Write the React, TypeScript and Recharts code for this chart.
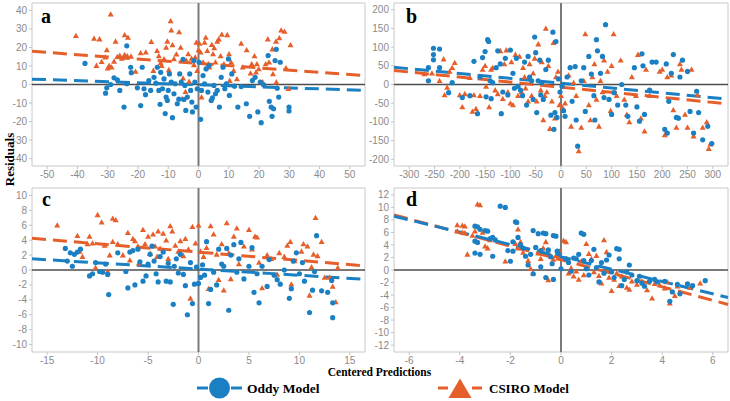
import { ScatterChart, Scatter, XAxis, YAxis, ReferenceLine, ReferenceArea } from "recharts";

type Pt = [number, number];

const BLUE = "#1b80c3";
const ORANGE = "#e65f2b";

// panel a
const oddyA: Pt[] = [
  [-37.5, 11.4], [-30.7, -4.7], [-30.3, -1.8], [-29, 0], [-27.9, 3.6], [-26.8, 2.5], [-26, -3.2], [-24.6, -12.2],
  [-23.7, 20.9], [-23.7, 0.4], [-22.4, 9.3], [-22.2, 6.4], [-20.2, -1.8], [-19.1, -11.4], [-18.6, 9.3], [-18, -2.3],
  [-17.5, -5.5], [-16.4, 2.1], [-15.8, -3.2], [-14.7, 3.9], [-14.1, 0.7], [-13.6, 9.3], [-13.1, -3.2], [-12.7, -10.7],
  [-12.5, 6.6], [-11.9, -2.3], [-11.4, 3], [-11, -15.7], [-10.7, -6.8], [-10.3, -8.6], [-10, -3.2], [-9.6, 5.7],
  [-9, 1.3], [-8.6, -17.9], [-8.1, -5], [-7.7, 0.4], [-7, -10.4], [-6.5, -7.9], [-6.2, 5.7], [-5.7, 1.3],
  [-5.1, 13.6], [-4.8, -8.1], [-4.5, -0.5], [-4.2, -14], [-3.7, -6.8], [-2.9, 5.7], [-2.6, -3.2], [-2.2, -9.5],
  [-2, -14.8], [-1.5, 12.9], [-1.2, 1.3], [-0.8, -12.2], [-0.4, -2.3], [0.2, 12], [0.7, -18.8], [1, -3.2],
  [1.5, 4.8], [2, 0.4], [2.5, 8.4], [3.1, -4.1], [3.5, 10.2], [4.2, -8.6], [4.6, -7.2], [5.1, -0.5],
  [5.6, -5], [6.2, -3.2], [6.9, -12.2], [7.5, 3.9], [8.1, 9.3], [8.7, -2.3], [9.2, 0.4], [9.9, 13.8],
  [10.2, -5.9], [11, 5.7], [11.9, -0.9], [13, -12.2], [14.1, -1.1], [15.8, -10.4], [16.9, -17.2], [17.8, 2.1],
  [18.7, 3.9], [19.6, -14.8], [20.4, 1.3], [20.7, -20.6], [21.5, -0.2], [23, 15.6], [23.4, -9.1], [24, -12.2],
  [24.3, -17.2], [24.8, -13.1], [25.3, 12.9], [25.7, 19], [26, -2], [26.5, -6.8], [27, 12], [29.9, -12.2], [29.9, -14.3],
];
const csiroA: Pt[] = [
  [-40.5, 26.3], [-34.5, 24.9], [-32.7, 24.5], [-29, 37.9], [-24.4, 26.7], [-23.3, 25.4], [-27.4, 23.3], [-33.7, 10.2],
  [-32, 12.3], [-30.8, 14.7], [-30.3, 18.6], [-29.5, 10.2], [-28.7, 9.3], [-30, 8.8], [-27.9, 12.5], [-26.8, 15],
  [-26, 15.6], [-25.3, 14.1], [-24.4, 16.1], [-23.5, 15.4], [-22.3, 15.2], [-20.8, 7], [-19.1, 17], [-17.4, 17.4],
  [-15.6, 23.1], [-14.9, 7.5], [-13.7, 18.2], [-13.1, 15.4], [-12.5, 11.8], [-12.2, 10.2], [-11.4, 13.8], [-10.7, 20],
  [-10.3, 23.3], [-9.8, 7.9], [-9.2, 34.3], [-9, 29.3], [-8.6, 21.3], [-8.1, 13.8], [-7.3, 16.3], [-6.4, 28.4],
  [-5.9, 20], [-5.5, 12.9], [-5.4, -7.7], [-5.1, 3.4], [-4.3, -3.9], [-4, 12.9], [-3.4, 16.5], [-3.1, 1.6],
  [-2.3, 14.1], [-1.5, 10.6], [-1.1, 14.7], [-0.7, 22.7], [-0.4, 7.5], [0, 18.6], [0.3, 22.2], [0.7, 17.4],
  [1, -6.8], [1.5, 12], [2, 22.7], [2.4, 25.4], [2.9, 18.2], [3.3, 11.1], [3.6, 9.3], [4.4, 21.5],
  [4.8, 16.5], [5.2, 19.7], [5.6, 12], [6.2, 23.3], [6.7, 24.5], [7.3, 15.4], [7.7, 27], [8.4, 11.1],
  [9.5, 26.8], [10.1, 16.5], [10.8, 12], [11.6, 7.5], [12.7, 3], [14.1, 22.2], [14.6, 9.3], [15.9, 18.6],
  [17.2, 6.1], [17.6, 11.1], [18.5, 15.4], [19, 6.6], [19.3, 11.1], [19.9, 8.4], [21.2, 1.3], [22.9, 24.5],
  [23.3, 12], [24.4, 19.1], [25.6, 23.3], [26.7, 25.1], [27.3, 29.3], [28.4, 28.6], [28.9, 8.9], [29.7, -2.3],
  [30.4, 21.3], [25.7, 1.3], [24.6, 5.7], [22.2, 11.1], [10.3, 2.1],
];

// panel b
const oddyB: Pt[] = [
  [-262, 45], [-262, 10], [-252, 97], [-252, 80], [-252, 66], [-240, 95], [-240, 45], [-222, -22], [-215, 5],
  [-195, -35], [-180, -30], [-172, 62], [-165, -78], [-160, 20], [-155, 72], [-150, 88], [-148, -33], [-145, 120],
  [-143, 115], [-140, 10], [-138, -38], [-135, 5], [-128, 45], [-125, 90], [-120, 55], [-118, -78], [-115, -20],
  [-110, 70], [-105, -28], [-100, 92], [-95, 30], [-92, -10], [-88, 70], [-85, -5], [-80, -15], [-76, -30],
  [-72, 60], [-68, -55], [-65, 75], [-62, 20], [-58, 10], [-55, -40], [-52, 127], [-50, 85], [-48, -75],
  [-45, 10], [-42, 65], [-40, -28], [-38, 5], [-35, -40], [-30, 40], [-25, 65], [-20, -82], [-16, 140],
  [-14, -120], [-12, -75], [-10, 115], [-8, -88], [-5, 15], [-2, -20], [2, -5], [5, -70], [8, -85],
  [12, 20], [18, 45], [22, -45], [28, 48], [30, -95], [33, -165], [40, 10], [45, 45], [48, -72],
  [55, 75], [60, 28], [65, -30], [67, -95], [70, 120], [72, 90], [78, 30], [82, 75], [85, -35],
  [88, 160], [95, -40], [100, -80], [105, -22], [112, -55], [120, 0], [128, -55], [132, -85], [145, 45],
  [150, -60], [155, -98], [160, 82], [162, 50], [165, -80], [175, -15], [180, 60], [188, 60], [205, -120],
  [208, 55], [210, -130], [213, -45], [218, 30], [222, 80], [228, -88], [232, -90], [235, 20], [240, 65],
  [250, 35], [255, -72], [262, -130], [268, -18], [272, -75], [280, -148], [290, -112], [298, -158],
];
const csiroB: Pt[] = [
  [-270, 28], [-255, 30], [-240, 10], [-232, 68], [-230, -28], [-225, -8], [-220, 35], [-215, 45], [-210, 58],
  [-200, -28], [-195, -60], [-190, -25], [-180, 18], [-175, -72], [-172, -28], [-168, -65], [-160, -30], [-155, 40],
  [-150, 50], [-148, -5], [-142, -60], [-138, 40], [-135, 45], [-130, -15], [-125, -25], [-120, 90], [-115, -38],
  [-112, 55], [-108, 92], [-105, -20], [-100, -50], [-98, 60], [-95, -55], [-90, 80], [-85, -30], [-82, 75],
  [-78, -20], [-75, 45], [-72, 20], [-70, -10], [-65, -45], [-62, 55], [-58, -30], [-55, 30], [-52, 70],
  [-48, -45], [-45, 108], [-40, -15], [-38, 60], [-35, -95], [-32, -30], [-30, 150], [-28, -20], [-25, 50],
  [-22, -118], [-18, -45], [-15, 112], [-12, -90], [-10, 20], [-6, 35], [-3, -55], [0, -30], [3, -62],
  [8, -50], [15, 25], [20, -112], [25, 5], [30, -30], [35, -178], [40, -115], [45, 10], [48, 135],
  [55, -55], [58, -95], [62, 20], [66, 55], [70, -40], [75, -112], [78, 10], [82, -20], [85, 65],
  [92, 35], [98, -70], [100, 50], [104, 135], [110, -30], [118, 65], [125, -40], [130, -80], [135, -100],
  [140, 20], [148, -30], [152, 80], [158, -90], [165, -125], [168, 40], [175, -30], [195, 35], [200, 40],
  [205, -135], [210, 20], [218, 25], [222, -68], [228, -115], [235, 55], [238, 40], [245, -80], [250, -115],
  [258, 40], [262, -138], [270, -28], [280, -115], [288, -100], [292, -172], [295, -160],
];

// panel c
const oddyC: Pt[] = [
  [-13.2, 2.9], [-13, 1.2], [-12.7, 2.3], [-12.5, 0.5], [-12.3, 2.1], [-12, 2.4], [-11.7, 2.8], [-10.8, -0.8],
  [-10.5, -0.5], [-10.2, 1], [-9.8, -0.2], [-9.5, -0.3], [-9.2, 0.8], [-9, -0.6], [-8.9, -3.3], [-8, 2.3],
  [-7.2, -0.2], [-7, -2.4], [-6.8, 2.4], [-6.5, 2.6], [-6.3, -2], [-6, 2.8], [-5.8, 1.1], [-5.5, -1.5],
  [-5.2, -0.8], [-5, 0.8], [-4.8, 2.1], [-4.6, 3.2], [-4.4, 1.2], [-4.2, -0.5], [-4, -1.6], [-3.8, 1.8],
  [-3.5, 2.4], [-3.2, -1.5], [-3, 0.9], [-2.8, -1.6], [-2.5, -4.6], [-2.4, 0.5], [-2.2, 1.5], [-2, -0.4],
  [-1.8, 2.1], [-1.5, -0.6], [-1.3, -2.1], [-1.1, -6], [-0.8, 1], [-0.6, -4.5], [-0.4, -1.9], [-0.2, 0.4],
  [0, -1.8], [0.2, -1], [0.4, 0.7], [0.6, -0.7], [0.8, 3.8], [1, -4.5], [1.2, -2.6], [1.5, -0.3],
  [1.8, -2], [2, 2.8], [2.3, 0.8], [2.5, 0.5], [2.8, 2.9], [3, -5.4], [3.2, 2], [3.5, 3.4],
  [3.8, -0.3], [4, 1.5], [4.2, 3.7], [4.5, -1.2], [5, 0.5], [5.3, 3], [5.5, -3], [5.8, -0.5],
  [6, -4.4], [6.3, 0.5], [6.8, -2.2], [7, 1.4], [7.5, -0.7], [7.8, -1.3], [8.1, -1.9], [8.5, 0],
  [9, -3.8], [9.2, -2.5], [9.4, 1.2], [9.7, 2.3], [10, -0.5], [10.3, 1], [10.5, -1.5], [11, -5.7],
  [11.3, -2.7], [11.5, -0.2], [11.7, 4.6], [12.2, -2.8], [12.8, -3], [13.2, -1.4], [13.3, -4.4], [13.3, -6.4],
];
const csiroC: Pt[] = [
  [-14, 6], [-12, 4.6], [-11.8, 2.5], [-11.5, 1.8], [-11, 3.5], [-10.8, 4.5], [-10.5, 3.6], [-10.2, 0.3],
  [-10, 7.4], [-9.6, 6.4], [-9.3, 3.3], [-9, -0.2], [-8.8, 2], [-8.5, 6.9], [-8.2, 6.7], [-8.5, 3.8],
  [-8, 3.5], [-7.5, 2], [-7, 5], [-6.8, 1.3], [-6.5, 4.2], [-6.3, 3.9], [-6, 3.2], [-5.9, 0.9],
  [-5.5, 5.4], [-5.3, 3.5], [-5, 4.5], [-4.8, 2.2], [-4.5, 4.8], [-4.3, 3.2], [-4.1, 1.8], [-4, 5.2],
  [-3.8, 2.9], [-3.5, 4.9], [-3.2, 4], [-3, 1.5], [-2.8, 5.9], [-2.6, 5.2], [-2.3, 3.3], [-2, 2.5],
  [-1.8, 3.9], [-1.5, 1.9], [-1.3, 4.2], [-1, 2.8], [-0.8, -3.8], [-0.6, 5.8], [-0.3, 3.6], [0, 6],
  [0.2, 2.5], [0.5, 1.8], [0.8, 3], [1, -2.5], [1.2, 5.9], [1.5, 4.8], [1.8, 2.1], [2, -1.3],
  [2.3, 3.5], [2.5, -2.7], [2.8, 6.3], [3, 2.3], [3.2, -1.2], [3.5, 4.5], [3.8, 5.6], [4, 0.8],
  [4.5, 3.2], [5, 5.4], [5.3, 2.8], [5.6, 4.5], [5.8, 4.4], [6, 1], [6.3, -2.4], [6.8, 2],
  [7.2, 1.5], [7.8, -0.6], [8, 2.3], [8.5, 1.8], [8.8, 3.3], [9.1, 3.8], [9.2, -1.9], [9.5, 1.2],
  [10.2, 2.5], [10.4, 3.5], [10.8, 3.2], [11, -3.4], [11.2, 0.4], [11.4, 2.1], [11.6, 7], [11.8, 1.9],
  [12.2, 3.8], [12.5, -1], [13, -1], [13.3, -2.2], [13.6, -4.3], [13.8, 0.3],
];

// panel d
const oddyD: Pt[] = [
  [-3.4, 7], [-3.3, 6.9], [-3.2, 6.5], [-3, 6.3], [-2.9, 6.2], [-2.8, 5], [-2.7, 5.2], [-2.6, 4.8],
  [-3.4, 4.6], [-3.3, 4.4], [-3.4, 2.7], [-3.2, 2.5], [-2.7, 2.2], [-2.4, 10.2], [-2.2, 10], [-2, 1.4],
  [-1.8, 7.7], [-1.75, 7.6], [-1.7, 5.2], [-1.6, 4], [-1.9, 4.5], [-2.1, 3.1], [-1.9, 3], [-1.5, 3.5],
  [-1.4, 2.2], [-1.3, 0.8], [-1.2, 2.5], [-1.1, 6.3], [-1, 3.6], [-0.9, 5.8], [-0.8, 3.1], [-0.7, 5.9],
  [-0.6, 5.8], [-0.5, 3.2], [-0.4, 2.1], [-0.35, 1], [-0.3, 5.5], [-0.2, 5.4], [-0.15, 3], [-0.1, 2.6],
  [0, 0.2], [-0.6, -1.2], [-0.8, 0.5], [-1.1, -0.6], [-0.3, -1.5], [0.2, 1.8], [0.3, 1.2], [0.4, -0.2],
  [0.5, 1.9], [0.6, 1.8], [0.7, 2.5], [0.8, 5.9], [0.9, 5.7], [0.9, 1.5], [1, 0.2], [1.1, -0.8],
  [1.2, 1.5], [1.3, 3.3], [1.4, 0.4], [1.5, -1.9], [1.6, 1.2], [1.7, -0.5], [1.8, 1.6], [1.9, 2.4],
  [2, -0.3], [2.1, -1.2], [2.2, 3.4], [2.3, 3.3], [2.3, 1.8], [2.4, -2.5], [2.5, -1.5], [2.6, -0.3],
  [2.7, 0.8], [2.8, -0.8], [3, -1.7], [3.1, -1], [3.2, -2.1], [3.3, -2.6], [3.5, -1.8], [3.7, -1.5],
  [3.8, -1.9], [4.1, -1.8], [4.3, -5], [4.4, -3.5], [4.6, -2.3], [4.7, -3.8], [5, -2.2], [5.2, -2.5], [5.7, -1.7],
];
const csiroD: Pt[] = [
  [-4.1, 7.2], [-3.9, 7.1], [-3.8, 7], [-4.1, 6.2], [-3.9, 6], [-3.8, 5.9], [-3.7, 2.5], [-3.5, 5.5],
  [-3.4, 6.2], [-3.3, 10.5], [-3.2, 10.4], [-3.1, 6], [-3, 3.8], [-2.9, 3.5], [-2.8, 4.8], [-2.2, 1.4],
  [-1.8, 4.2], [-1.7, 6.5], [-1.7, 3.5], [-1.6, 4.5], [-1.5, 2.8], [-1.3, 1.5], [-1.2, 0.2], [-1.1, -0.5],
  [-0.9, 2.7], [-0.8, 1.8], [-0.7, 3.5], [-0.6, 4.5], [-0.5, -1.6], [-0.4, 2.2], [-0.3, 1.7], [-0.2, 2.3],
  [-0.1, 1.9], [-0.05, 3], [0.1, 4.7], [0.2, 4.5], [0.3, -0.5], [0.4, 0.3], [0.5, -1], [0.6, -0.2],
  [0.7, -1.5], [0.8, 1.4], [0.9, -0.8], [1, 4.2], [1.1, 2.6], [1.2, 1.8], [1.3, -0.3], [1.4, 2.3],
  [1.5, -0.9], [1.6, -2.1], [1.7, 4.8], [1.8, 2.9], [1.9, -1.2], [2, -3.3], [2.1, -1.5], [2.2, -0.5],
  [2.3, -2.5], [2.4, -1], [2.6, -2.8], [2.7, -3.1], [2.8, -1.8], [3, -2.3], [3.2, -1.8], [3.4, -3.2],
  [3.6, -4.5], [3.7, -2.2], [3.9, -2.4], [4.1, -2.9], [4.2, -1.9], [4.3, -5.3], [4.5, -4.1], [4.6, -2.6],
  [5.1, -2.8], [5.5, -2.1],
];

// fitted lines (end points)
const fitOddyA: Pt[] = [[-55, 2.9], [55, -3.2]];
const fitCsiroA: Pt[] = [[-55, 17.9], [55, 4.8]];
const fitOddyB: Pt[] = [[-330, 46], [330, -39]];
const fitCsiroB: Pt[] = [[-330, 37.5], [330, -52]];
const fitOddyC: Pt[] = [[-16.5, 1.5], [16.5, -1.25]];
const fitCsiroC: Pt[] = [[-16.5, 4.25], [16.5, 0.55]];
const fitOddyD: Pt[] = [[-6.6, 8.6], [6.6, -4.4]];
const fitCsiroD: Pt[] = [[-6.6, 8.8], [6.6, -5.5]];

const xTicksA = [-50, -40, -30, -20, -10, 0, 10, 20, 30, 40, 50];
const yTicksA = [-40, -30, -20, -10, 0, 10, 20, 30, 40];
const xTicksB = [-300, -250, -200, -150, -100, -50, 0, 50, 100, 150, 200, 250, 300];
const yTicksB = [-200, -150, -100, -50, 0, 50, 100, 150, 200];
const xTicksC = [-15, -10, -5, 0, 5, 10, 15];
const yTicksC = [-10, -8, -6, -4, -2, 0, 2, 4, 6, 8, 10];
const xTicksD = [-6, -4, -2, 0, 2, 4, 6];
const yTicksD = [-12, -10, -8, -6, -4, -2, 0, 2, 4, 6, 8, 10, 12];

const toObj = (pts: Pt[]) => pts.map(([x, y]) => ({ x, y }));

const Dot = (p: any) => <circle cx={p.cx} cy={p.cy} r={2.6} fill={BLUE} />;
const Tri = (p: any) => (
  <polygon
    points={`${p.cx},${p.cy - 3} ${p.cx - 3},${p.cy + 2.3} ${p.cx + 3},${p.cy + 2.3}`}
    fill={ORANGE}
  />
);

const tickStyle = { fontSize: 10, fill: "#8a8a8a", fontFamily: "Liberation Sans, Arial, sans-serif" };

interface PanelProps {
  left: number;
  top: number;
  width: number;
  height: number;
  mTop: number;
  mRight: number;
  xDom: [number, number];
  yDom: [number, number];
  xTicks: number[];
  yTicks: number[];
  oddy: Pt[];
  csiro: Pt[];
  fitOddy: Pt[];
  fitCsiro: Pt[];
}

function Panel(p: PanelProps) {
  const seg = (f: Pt[]) => f.map(([x, y]) => ({ x, y }));
  return (
    <div style={{ position: "absolute", left: p.left, top: p.top }}>
      <ScatterChart
        width={p.width}
        height={p.height}
        margin={{ top: p.mTop, right: p.mRight, bottom: 0, left: 0 }}
      >
        <XAxis
          type="number"
          dataKey="x"
          domain={p.xDom}
          ticks={p.xTicks}
          interval={0}
          allowDataOverflow
          height={19}
          tick={tickStyle}
          tickSize={3}
          tickMargin={2}
          axisLine={false}
          tickLine={{ stroke: "#c4c4c4" }}
        />
        <YAxis
          type="number"
          dataKey="y"
          domain={p.yDom}
          ticks={p.yTicks}
          interval={0}
          allowDataOverflow
          width={32}
          tick={tickStyle}
          tickSize={3}
          tickMargin={2}
          axisLine={false}
          tickLine={{ stroke: "#c4c4c4" }}
        />
        <ReferenceArea
          x1={p.xDom[0]}
          x2={p.xDom[1]}
          y1={p.yDom[0]}
          y2={p.yDom[1]}
          fill="none"
          stroke="#c8c8c8"
          strokeWidth={1}
          ifOverflow="visible"
        />
        <Scatter data={toObj(p.csiro)} shape={Tri} isAnimationActive={false} />
        <Scatter data={toObj(p.oddy)} shape={Dot} isAnimationActive={false} />
        <ReferenceLine x={0} stroke="#7a7a7a" strokeWidth={2} ifOverflow="visible" />
        <ReferenceLine y={0} stroke="#4d4d4d" strokeWidth={1.6} ifOverflow="visible" />
        <ReferenceLine
          segment={seg(p.fitCsiro)}
          stroke={ORANGE}
          strokeWidth={3}
          strokeDasharray="14 7"
          ifOverflow="visible"
        />
        <ReferenceLine
          segment={seg(p.fitOddy)}
          stroke={BLUE}
          strokeWidth={3}
          strokeDasharray="14 7"
          ifOverflow="visible"
        />
      </ScatterChart>
    </div>
  );
}

const serif = "Liberation Serif, Times New Roman, serif";

export default function App() {
  return (
    <div style={{ position: "absolute", left: 0, top: 0, width: 730, height: 401, background: "#fff" }}>
      <Panel left={0} top={0} width={370} height={185} mTop={3} mRight={5}
        xDom={[-55, 55]} yDom={[-44, 44]} xTicks={xTicksA} yTicks={yTicksA}
        oddy={oddyA} csiro={csiroA} fitOddy={fitOddyA} fitCsiro={fitCsiroA} />
      <Panel left={362} top={0} width={368} height={185} mTop={3} mRight={2}
        xDom={[-330, 330]} yDom={[-218, 218]} xTicks={xTicksB} yTicks={yTicksB}
        oddy={oddyB} csiro={csiroB} fitOddy={fitOddyB} fitCsiro={fitCsiroB} />
      <Panel left={0} top={185} width={370} height={186} mTop={3} mRight={5}
        xDom={[-16.5, 16.5]} yDom={[-11, 11]} xTicks={xTicksC} yTicks={yTicksC}
        oddy={oddyC} csiro={csiroC} fitOddy={fitOddyC} fitCsiro={fitCsiroC} />
      <Panel left={362} top={185} width={368} height={186} mTop={3} mRight={2}
        xDom={[-6.6, 6.6]} yDom={[-13.1, 13.1]} xTicks={xTicksD} yTicks={yTicksD}
        oddy={oddyD} csiro={csiroD} fitOddy={fitOddyD} fitCsiro={fitCsiroD} />

      <svg width={730} height={401} style={{ position: "absolute", left: 0, top: 0, pointerEvents: "none" }}>
        <g fontFamily={serif} fontWeight="bold" fontSize={20} fill="#000">
          <text x={41} y={22.5}>a</text>
          <text x={406} y={22.5}>b</text>
          <text x={42} y={206}>c</text>
          <text x={406} y={206}>d</text>
        </g>
        <text x={14} y={159.5} transform="rotate(-90 14 159.5)" textAnchor="middle"
          fontFamily={serif} fontWeight="bold" fontSize={13}>Residuals</text>
        <text x={379.5} y={376} textAnchor="middle" fontFamily={serif} fontWeight="bold" fontSize={11.5}>
          Centered Predictions
        </text>

        {/* legend */}
        <line x1={197} y1={388} x2={208} y2={388} stroke={BLUE} strokeWidth={3} />
        <line x1={231} y1={388} x2={242} y2={388} stroke={BLUE} strokeWidth={3} />
        <circle cx={219.5} cy={388} r={10.5} fill={BLUE} />
        <text x={247} y={393} fontFamily={serif} fontWeight="bold" fontSize={13.5}>Oddy Model</text>

        <line x1={438} y1={388} x2={448} y2={388} stroke={ORANGE} strokeWidth={3} />
        <line x1={472} y1={388} x2={482} y2={388} stroke={ORANGE} strokeWidth={3} />
        <polygon points="460,378.5 448.5,398 471.5,398" fill={ORANGE} />
        <text x={489} y={393} fontFamily={serif} fontWeight="bold" fontSize={13}>CSIRO Model</text>
      </svg>
    </div>
  );
}
